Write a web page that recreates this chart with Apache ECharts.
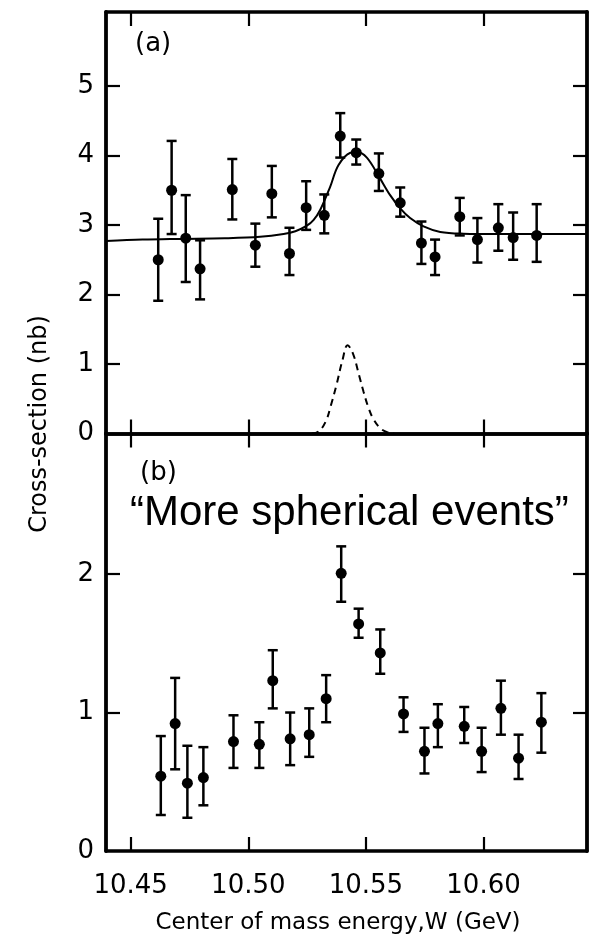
<!DOCTYPE html>
<html>
<head>
<meta charset="utf-8">
<script src="https://cdn.jsdelivr.net/npm/echarts@6/dist/echarts.min.js"></script>
<style>html,body{margin:0;padding:0;background:#fff}#c{width:593px;height:934px}</style>
</head>
<body>
<div id="c"></div>
<script>
// X tick values / labels
const X_TICKS = [10.45, 10.50, 10.55, 10.60];
const X_LABELS = ['10.45', '10.50', '10.55', '10.60'];
const YA_TICKS = [0, 1, 2, 3, 4, 5];
const YB_TICKS = [0, 1, 2];

// Panel (a): all events
const W_A  = [10.4617,10.4674,10.4734,10.4795,10.4932,10.5030,10.5100,10.5175,10.5246,10.5323,10.5391,10.5459,10.5555,10.5646,10.5736,10.5794,10.5899,10.5974,10.6063,10.6126,10.6226];
const V_A  = [2.50,3.50,2.81,2.37,3.51,2.71,3.45,2.59,3.25,3.14,4.28,4.04,3.74,3.32,2.74,2.54,3.12,2.79,2.96,2.82,2.85];
const LO_A = [1.91,2.87,2.18,1.93,3.08,2.40,3.11,2.28,2.93,2.88,3.97,3.87,3.49,3.12,2.44,2.28,2.85,2.46,2.63,2.50,2.47];
const HI_A = [3.09,4.21,3.43,2.78,3.95,3.02,3.85,2.96,3.63,3.44,4.61,4.23,4.03,3.54,3.05,2.79,3.39,3.10,3.30,3.18,3.30];

// Fit curve (solid)
const FIT_W = [10.4395,10.455,10.47,10.49,10.505,10.515,10.52,10.5249,10.5277,10.5306,10.5348,10.5383,10.5434,10.5462,10.5504,10.5555,10.5603,10.5646,10.5688,10.5745,10.5816,10.5915,10.6057,10.644];
const FIT_V = [2.77,2.79,2.80,2.81,2.83,2.87,2.91,2.99,3.07,3.22,3.55,3.86,4.04,4.05,3.97,3.70,3.43,3.24,3.10,2.98,2.90,2.875,2.87,2.87];

// Resolution curve (dashed)
const GAU_W = [10.527,10.530,10.533,10.535,10.5375,10.540,10.5422,10.5445,10.547,10.549,10.551,10.553,10.556,10.559,10.562];
const GAU_V = [0,0.03,0.18,0.39,0.70,1.05,1.27,1.15,0.85,0.60,0.38,0.22,0.08,0.02,0];

// Panel (b): more spherical events
const W_B  = [10.4628,10.4689,10.4741,10.4809,10.4937,10.5047,10.5104,10.5178,10.5259,10.5331,10.5395,10.5469,10.5561,10.5660,10.5749,10.5806,10.5918,10.5992,10.6074,10.6149,10.6246];
const V_B  = [0.54,0.92,0.49,0.53,0.79,0.77,1.23,0.81,0.84,1.10,2.005,1.64,1.43,0.99,0.72,0.92,0.90,0.72,1.03,0.67,0.93];
const LO_B = [0.26,0.59,0.24,0.33,0.60,0.60,1.03,0.62,0.68,0.93,1.80,1.54,1.28,0.86,0.56,0.75,0.78,0.57,0.84,0.52,0.71];
const HI_B = [0.83,1.25,0.76,0.75,0.98,0.93,1.45,1.00,1.03,1.27,2.20,1.75,1.60,1.11,0.89,1.06,1.04,0.89,1.23,0.84,1.14];

const XMIN = 10.4395, XMAX = 10.644;
const INK = '#000';
const FONT = 'DejaVu Sans';

function zip(a, b) { return a.map((v, i) => [v, b[i]]); }
function errRows(w, v, lo, hi) { return w.map((x, i) => [x, v[i], lo[i], hi[i]]); }

function errRender(params, api) {
  const x = api.value(0), lo = api.value(2), hi = api.value(3);
  const pH = api.coord([x, hi]);
  const pL = api.coord([x, lo]);
  const cap = 5;
  const st = { stroke: INK, lineWidth: 2.5 };
  return {
    type: 'group',
    children: [
      { type: 'line', shape: { x1: pH[0], y1: pH[1], x2: pL[0], y2: pL[1] }, style: st },
      { type: 'line', shape: { x1: pH[0] - cap, y1: pH[1], x2: pH[0] + cap, y2: pH[1] }, style: st },
      { type: 'line', shape: { x1: pL[0] - cap, y1: pL[1], x2: pL[0] + cap, y2: pL[1] }, style: st }
    ]
  };
}

function xAxisDef(gridIndex, position, showLabels) {
  return {
    type: 'value', gridIndex: gridIndex, position: position,
    min: XMIN, max: XMAX,
    axisLine: { show: true, onZero: false, lineStyle: { color: INK, width: 3.5 } },
    axisTick: { show: true, inside: true, length: 14, customValues: X_TICKS, lineStyle: { color: INK, width: 2.2 } },
    axisLabel: {
      show: showLabels, customValues: X_TICKS, margin: 22,
      fontFamily: FONT, fontSize: 26, color: INK,
      formatter: v => { const i = X_TICKS.findIndex(t => Math.abs(t - v) < 1e-6); return i >= 0 ? X_LABELS[i] : ''; }
    },
    splitLine: { show: false }
  };
}
function yAxisDef(gridIndex, position, max, ticks, showLabels) {
  return {
    type: 'value', gridIndex: gridIndex, position: position,
    min: 0, max: max,
    axisLine: { show: true, onZero: false, lineStyle: { color: INK, width: 3.8 } },
    axisTick: { show: true, inside: true, length: 14, customValues: ticks.filter(t => t > 0), lineStyle: { color: INK, width: 2.2 } },
    axisLabel: { show: showLabels, customValues: ticks, margin: 12, fontFamily: FONT, fontSize: 26, color: INK },
    splitLine: { show: false }
  };
}

const chart = echarts.init(document.getElementById('c'), null, { renderer: 'canvas' });
chart.setOption({
  animation: false,
  backgroundColor: '#fff',
  grid: [
    { left: 106, right: 6, top: 12, height: 421.5 },
    { left: 106, right: 6, top: 433.5, height: 417.5 }
  ],
  xAxis: [
    xAxisDef(0, 'bottom', false),
    xAxisDef(0, 'top', false),
    xAxisDef(1, 'bottom', true),
    xAxisDef(1, 'top', false)
  ],
  yAxis: [
    yAxisDef(0, 'left', 6.065, YA_TICKS, true),
    yAxisDef(0, 'right', 6.065, YA_TICKS, false),
    yAxisDef(1, 'left', 3.015, YB_TICKS, true),
    yAxisDef(1, 'right', 3.015, YB_TICKS, false)
  ],
  series: [
    { type: 'line', xAxisIndex: 0, yAxisIndex: 0, data: zip(FIT_W, FIT_V), smooth: 0.35, symbol: 'none',
      lineStyle: { color: INK, width: 2 }, z: 2 },
    { type: 'line', xAxisIndex: 0, yAxisIndex: 0, data: zip(GAU_W, GAU_V), smooth: 0.4, symbol: 'none',
      lineStyle: { color: INK, width: 2, type: [7, 5] }, z: 2 },
    { type: 'custom', xAxisIndex: 0, yAxisIndex: 0, data: errRows(W_A, V_A, LO_A, HI_A), renderItem: errRender,
      encode: { x: 0, y: [1, 2, 3] }, z: 3 },
    { type: 'scatter', xAxisIndex: 0, yAxisIndex: 0, data: zip(W_A, V_A), symbol: 'circle', symbolSize: 11,
      itemStyle: { color: INK, opacity: 1 }, z: 4 },
    { type: 'custom', xAxisIndex: 2, yAxisIndex: 2, data: errRows(W_B, V_B, LO_B, HI_B), renderItem: errRender,
      encode: { x: 0, y: [1, 2, 3] }, z: 3 },
    { type: 'scatter', xAxisIndex: 2, yAxisIndex: 2, data: zip(W_B, V_B), symbol: 'circle', symbolSize: 11,
      itemStyle: { color: INK, opacity: 1 }, z: 4 }
  ],
  graphic: [
    { type: 'text', x: 135, y: 44, style: { text: '(a)', font: '26px "DejaVu Sans"', fill: INK, align: 'left', verticalAlign: 'middle' } },
    { type: 'text', x: 140, y: 473, style: { text: '(b)', font: '26px "DejaVu Sans"', fill: INK, align: 'left', verticalAlign: 'middle' } },
    { type: 'text', x: 130, y: 513, style: { text: '\u201CMore spherical events\u201D', font: '42px "Liberation Sans"', fill: '#000', align: 'left', verticalAlign: 'middle' } },
    { type: 'text', x: 40, y: 424, rotation: Math.PI / 2, style: { text: 'Cross-section (nb)', font: '24px "DejaVu Sans"', fill: INK, align: 'center', verticalAlign: 'middle' } },
    { type: 'text', x: 338, y: 923, style: { text: 'Center of mass energy,W (GeV)', font: '23px "DejaVu Sans"', fill: INK, align: 'center', verticalAlign: 'middle' } }
  ]
});
</script>
</body>
</html>
